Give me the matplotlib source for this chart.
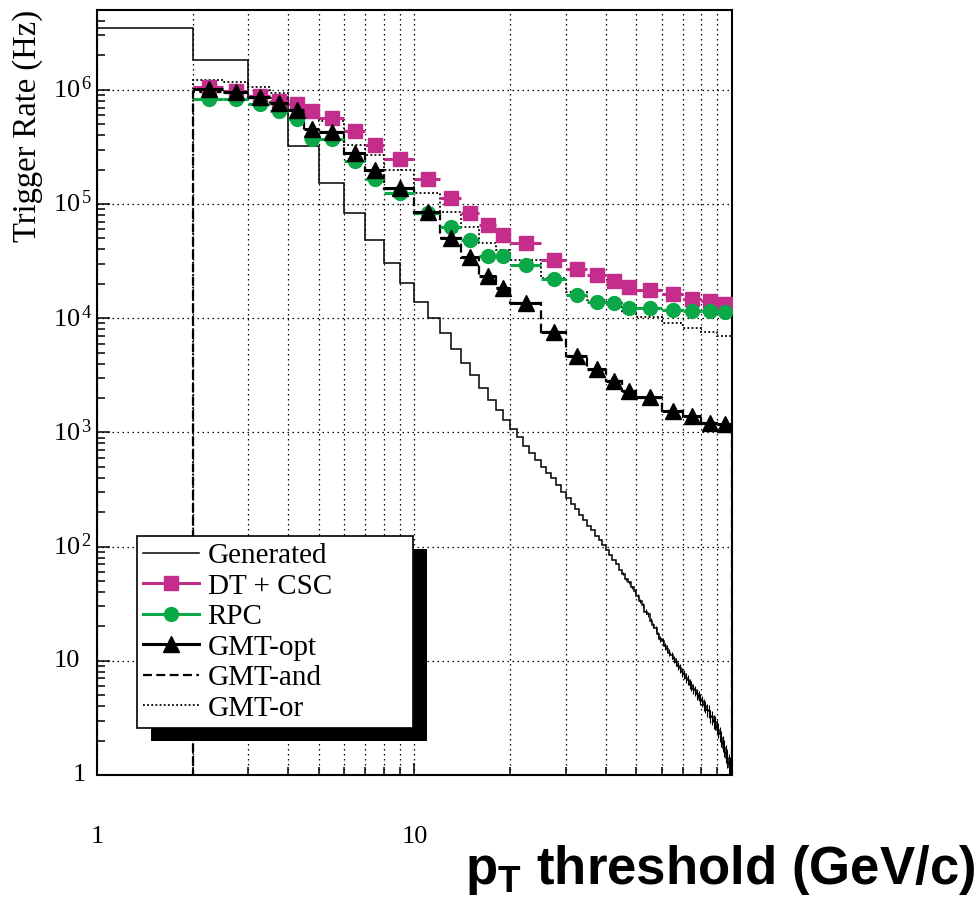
import numpy as np
import matplotlib
matplotlib.use("Agg")
import matplotlib.pyplot as plt
from matplotlib.patches import Rectangle
from matplotlib.lines import Line2D
from matplotlib.transforms import blended_transform_factory

plt.rcParams['mathtext.fontset'] = 'custom'
plt.rcParams['mathtext.rm'] = 'Liberation Serif'
plt.rcParams['mathtext.it'] = 'Liberation Serif:italic'
plt.rcParams['mathtext.bf'] = 'Liberation Sans:bold'
SERIF = 'Liberation Serif'

# generated rate, 1 GeV bins from 1 to 100
gen_edges = list(range(1, 101))
gen_rate = [3.5e6, 1.83e6, 8.5e5, 3.2e5, 1.53e5, 8.3e4, 4.85e4, 3.03e4, 2.03e4,
            1.4e4, 1.01e4, 7.4e3, 5.36e3, 4.04e3, 3.19e3, 2.44e3, 1.93e3, 1.57e3, 1.29e3,
            1070, 908, 762, 666, 574, 502, 439, 397, 347, 303,
            266, 236, 212, 188, 171, 152, 139, 124, 114, 103,
            94, 85, 76, 70, 63, 58, 52, 48.5, 44, 41,
            37, 33.5, 30.5, 27, 25.5, 22.5, 20.5, 19.2, 17, 15.6,
            14.8, 13.5, 12.8, 11.8, 11.2, 10.3, 9.8, 9.0, 8.6, 7.9,
            7.6, 7.1, 6.8, 6.3, 6.1, 5.7, 5.5, 5.1, 4.95, 4.6,
            4.45, 4.1, 4.0, 3.7, 3.6, 3.3, 3.2, 2.95, 2.9, 2.65,
            2.5, 2.3, 2.1, 1.9, 1.72, 1.55, 1.42, 1.28, 1.18, 1.07]
# relative stat. errors of the generated rate, bins 45..99
gen_err_first = 45
gen_relerr = [0.03, 0.03, 0.035, 0.035, 0.04,
              0.04, 0.045, 0.045, 0.05, 0.05, 0.055, 0.055, 0.06, 0.06, 0.065,
              0.065, 0.07, 0.07, 0.075, 0.075, 0.08, 0.08, 0.085, 0.085, 0.09,
              0.09, 0.095, 0.095, 0.10, 0.10, 0.105, 0.105, 0.11, 0.11, 0.115,
              0.115, 0.12, 0.12, 0.125, 0.13, 0.13, 0.135, 0.14, 0.14, 0.145,
              0.15, 0.155, 0.16, 0.165, 0.17, 0.18, 0.19, 0.20, 0.21, 0.22]

# trigger pT threshold bins
trig_edges = [2, 2.5, 3, 3.5, 4, 4.5, 5, 6, 7, 8, 10, 12, 14, 16, 18, 20,
              25, 30, 35, 40, 45, 50, 60, 70, 80, 90, 100]
dt_csc = [1.05e6, 9.7e5, 8.8e5, 8.0e5, 7.5e5, 6.55e5, 5.65e5, 4.35e5, 3.3e5, 2.5e5,
          1.65e5, 1.13e5, 8.4e4, 6.6e4, 5.4e4, 4.6e4, 3.25e4, 2.72e4, 2.38e4, 2.1e4,
          1.89e4, 1.78e4, 1.63e4, 1.48e4, 1.41e4, 1.33e4]
rpc = [8.3e5, 8.25e5, 7.5e5, 6.55e5, 5.55e5, 3.7e5, 3.68e5, 2.4e5, 1.66e5, 1.25e5,
       8.4e4, 6.35e4, 4.8e4, 3.52e4, 3.52e4, 2.93e4, 2.2e4, 1.6e4, 1.4e4, 1.37e4,
       1.22e4, 1.22e4, 1.17e4, 1.16e4, 1.15e4, 1.14e4]
gmt_opt = [1.02e6, 9.6e5, 8.65e5, 7.7e5, 6.7e5, 4.5e5, 4.3e5, 2.8e5, 1.99e5, 1.37e5,
           8.5e4, 5.05e4, 3.43e4, 2.32e4, 1.85e4, 1.36e4, 7.6e3, 4.7e3, 3.57e3, 2.84e3,
           2.32e3, 2.03e3, 1.55e3, 1.38e3, 1.22e3, 1.18e3]
gmt_and = [9.6e5, 9.3e5, 8.4e5, 7.6e5, 6.6e5, 4.35e5, 4.25e5, 2.75e5, 1.95e5, 1.35e5,
           8.4e4, 5.0e4, 3.4e4, 2.3e4, 1.85e4, 1.35e4, 7.5e3, 4.65e3, 3.55e3, 2.8e3,
           2.3e3, 2.0e3, 1.53e3, 1.36e3, 1.2e3, 1.16e3]
gmt_or = [1.22e6, 1.17e6, 1.05e6, 9.3e5, 8.0e5, 6.0e5, 5.3e5, 3.3e5, 2.66e5, 1.97e5,
          1.24e5, 8.55e4, 6.27e4, 4.6e4, 3.97e4, 3.24e4, 2.24e4, 1.71e4, 1.45e4, 1.38e4,
          1.12e4, 1.02e4, 9.0e3, 8.2e3, 7.5e3, 7.0e3]

labels = ['Generated', 'DT + CSC', 'RPC', 'GMT-opt', 'GMT-and', 'GMT-or']
PINK = '#c42d8b'
GREEN = '#0aa846'

fig = plt.figure(figsize=(9.78, 8.98), dpi=100)
ax = fig.add_axes([97 / 978, 123 / 898, 635 / 978, 765 / 898])
ax.set_xscale('log')
ax.set_yscale('log')
ax.set_xlim(1, 100)
ax.set_ylim(1, 5e6)
ax.set_axisbelow(True)

dots = (0, (1.2, 2.8))
ax.grid(True, which='both', axis='x', color='black', lw=0.9, ls=dots)
ax.grid(True, which='major', axis='y', color='black', lw=0.9, ls=dots)

te = np.array(trig_edges)
tc = (te[:-1] + te[1:]) / 2
tw = (te[1:] - te[:-1]) / 2

ge = np.array(gen_edges)
gr = np.array(gen_rate)
ax.stairs(gr, ge, color='black', lw=1.1, zorder=2)
gc = (ge[:-1] + ge[1:]) / 2
sel = slice(gen_err_first - 1, None)
ax.errorbar(gc[sel], gr[sel], yerr=gr[sel] * np.array(gen_relerr), fmt='none',
            ecolor='black', elinewidth=0.8, capsize=0, zorder=2)

ax.stairs(gmt_or, te, baseline=1e-3, color='black', lw=1.3, ls=(0, (1, 1.3)), zorder=3)
ax.stairs(gmt_and, te, baseline=1e-3, color='black', lw=1.6, ls=(0, (4, 2)), zorder=3)

ax.errorbar(tc, dt_csc, xerr=tw, fmt='s', color=PINK, ms=10, elinewidth=2.2,
            capsize=0, zorder=4)
ax.errorbar(tc, rpc, xerr=tw, fmt='o', color=GREEN, ms=10, elinewidth=2.2,
            capsize=0, zorder=5)
ax.errorbar(tc, gmt_opt, xerr=tw, fmt='^', color='black', ms=11, elinewidth=2.2,
            capsize=0, zorder=6)

for s in ax.spines.values():
    s.set_linewidth(1.5)
ax.set_xticks([1, 10, 100])
ax.set_yticks([10.0 ** k for k in range(7)])
ax.tick_params(which='both', direction='in', top=False, right=False,
               labelbottom=False, labelleft=False, width=1.1)
ax.tick_params(which='major', length=9)
ax.tick_params(which='minor', length=6)

ty = blended_transform_factory(ax.transAxes, ax.transData)
for k in range(7):
    if k == 0:
        txt, xo = '1', -0.039
    elif k == 1:
        txt, xo = '10', -0.069
    else:
        txt, xo = r'$\mathregular{10^{\,%d}}$' % k, -0.069
    ax.text(xo, 10.0 ** k, txt, transform=ty, ha='left', va='center',
            fontsize=19, family=SERIF, clip_on=False)

tx = blended_transform_factory(ax.transData, ax.transAxes)
for v, t in [(1, '1'), (10, '10')]:
    ax.text(v, -0.081, t, transform=tx, ha='center', va='center',
            fontsize=19, family=SERIF, clip_on=False)

fig.text(0.028, 0.989, 'Trigger Rate (Hz)', rotation=90, ha='center', va='top',
         fontsize=23.5, family=SERIF)
fig.text(0.997, 0.016, r'$\mathbf{p_{T}}$ threshold (GeV/c)', ha='right',
         va='baseline', fontsize=38, family='Liberation Sans', weight='bold')

handles = [
    Line2D([], [], color='black', lw=1.1),
    Line2D([], [], color=PINK, lw=2.2, marker='s', ms=10),
    Line2D([], [], color=GREEN, lw=2.2, marker='o', ms=10),
    Line2D([], [], color='black', lw=2.2, marker='^', ms=11),
    Line2D([], [], color='black', lw=1.6, ls=(0, (4, 2))),
    Line2D([], [], color='black', lw=1.3, ls=(0, (1, 1.3))),
]
leg = ax.legend(handles, labels, loc='lower left',
                bbox_to_anchor=(0.063, 0.0614, 0.4346, 0.25), mode='expand',
                borderaxespad=0, frameon=True, fancybox=False, framealpha=1,
                edgecolor='black', prop={'family': SERIF, 'size': 21},
                handlelength=1.9, handletextpad=0.3, labelspacing=0.14,
                borderpad=0.22)
leg.get_frame().set_linewidth(1.2)
leg.set_zorder(10)

fig.canvas.draw()
bb = leg.get_window_extent()
inv = ax.transAxes.inverted()
(x0, y0) = inv.transform((bb.x0 + 14, bb.y0 - 13))
(x1, y1) = inv.transform((bb.x1 + 14, bb.y1 - 13))
ax.add_patch(Rectangle((x0, y0), x1 - x0, y1 - y0, transform=ax.transAxes,
                       facecolor='black', edgecolor='none', zorder=9, clip_on=False))

fig.savefig('out.png', dpi=100)
